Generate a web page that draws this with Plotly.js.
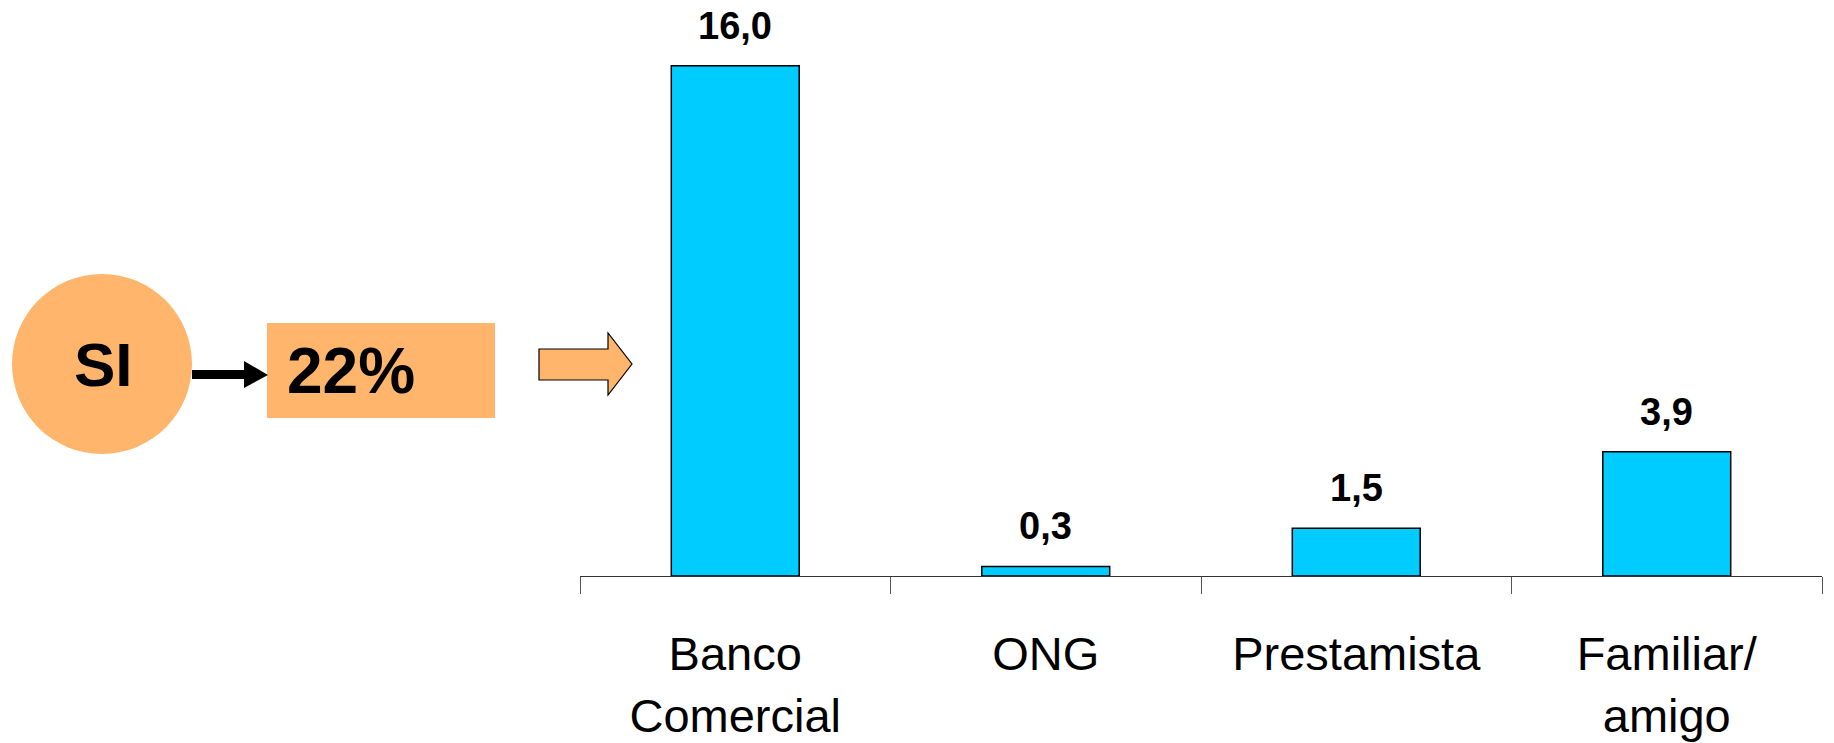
<!DOCTYPE html>
<html>
<head>
<meta charset="utf-8">
<script src="https://cdn.plot.ly/plotly-3.0.1.min.js"></script>
<style>html,body{margin:0;padding:0;background:#fff;}#chart{width:1834px;height:743px;}</style>
</head>
<body>
<div id="chart"></div>
<script>
const categories = ["Banco<br>Comercial", "ONG", "Prestamista", "Familiar/<br>amigo"];
const values = [16.0, 0.3, 1.5, 3.9];
const siLabel = "SI";
const siShare = "22%";

const W = 1834, H = 743;
const M = {l: 580, r: 12, t: 18, b: 167};
const PW = W - M.l - M.r, PH = H - M.t - M.b;
const px = x => (x - M.l) / PW;
const py = y => (H - M.b - y) / PH;

const orange = "#FFB56B";
const fontFam = "Liberation Sans, Arial, sans-serif";

const trace = {
  type: "bar",
  x: categories,
  y: values,
  marker: {color: "#00CCFF", line: {color: "#000", width: 1.5}},
  hoverinfo: "skip"
};

const fmt = v => v.toFixed(1).replace(".", ",");

const annotations = categories.map((c, i) => ({
  x: c, y: values[i], xref: "x", yref: "y",
  text: "<b>" + fmt(values[i]) + "</b>",
  showarrow: false, yanchor: "bottom", yshift: 17,
  font: {family: fontFam, size: 38, color: "#000"}
}));

annotations.push({
  xref: "paper", yref: "paper", x: px(103), y: py(364),
  text: "<b>" + siLabel + "</b>", showarrow: false,
  xanchor: "center", yanchor: "middle",
  font: {family: fontFam, size: 62, color: "#000"}
});
annotations.push({
  xref: "paper", yref: "paper", x: px(285), y: py(371),
  text: "<b>" + siShare + "</b>", showarrow: false,
  xanchor: "left", yanchor: "middle",
  font: {family: fontFam, size: 64, color: "#000"}
});

const P = (x, y) => px(x) + "," + py(y);

const shapes = [
  {type: "circle", xref: "paper", yref: "paper",
   x0: px(12), x1: px(192), y0: py(274), y1: py(454),
   fillcolor: orange, line: {width: 0}, layer: "above"},
  {type: "rect", xref: "paper", yref: "paper",
   x0: px(267), x1: px(495), y0: py(323), y1: py(418),
   fillcolor: orange, line: {width: 0}, layer: "above"},
  {type: "path", xref: "paper", yref: "paper",
   path: "M" + P(192, 370) + " L" + P(244, 370) + " L" + P(244, 361) + " L" + P(268, 375) +
         " L" + P(244, 388) + " L" + P(244, 379) + " L" + P(192, 379) + " Z",
   fillcolor: "#000", line: {width: 0}, layer: "above"},
  {type: "path", xref: "paper", yref: "paper",
   path: "M" + P(539, 349) + " L" + P(608, 349) + " L" + P(608, 333) + " L" + P(632, 364) +
         " L" + P(608, 395) + " L" + P(608, 380) + " L" + P(539, 380) + " Z",
   fillcolor: orange, line: {width: 1.2, color: "#000"}, layer: "above"}
];

const layout = {
  width: W, height: H,
  margin: M,
  paper_bgcolor: "#fff", plot_bgcolor: "#fff",
  showlegend: false,
  bargap: 0.588,
  xaxis: {
    type: "category",
    showline: true, linecolor: "#333", linewidth: 1,
    ticks: "outside", tickson: "boundaries", ticklen: 17, tickcolor: "#555", tickwidth: 1,
    showgrid: false, zeroline: false,
    tickfont: {family: fontFam, size: 47, color: "#000"},
    ticklabelstandoff: 37,
    fixedrange: true
  },
  yaxis: {
    range: [0, 17.5], visible: false, showgrid: false, zeroline: false, fixedrange: true
  },
  annotations: annotations,
  shapes: shapes
};

Plotly.newPlot("chart", [trace], layout, {displayModeBar: false, staticPlot: true});
</script>
</body>
</html>
